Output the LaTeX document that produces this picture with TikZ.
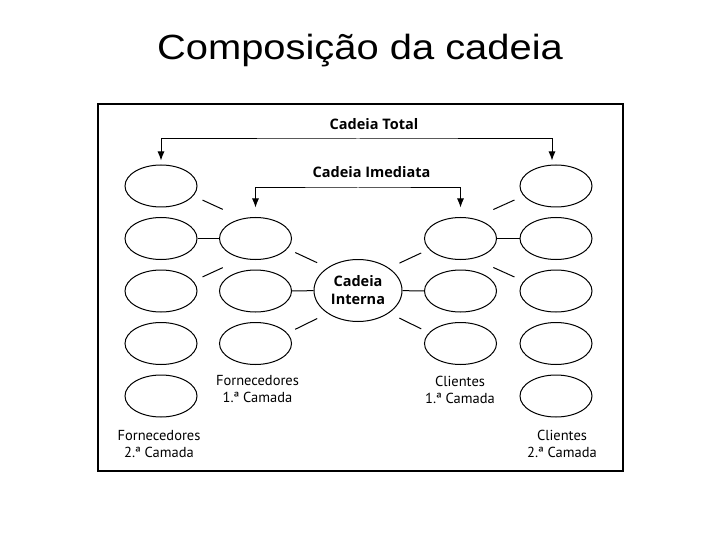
\documentclass[tikz,border=0pt]{standalone}
\usepackage{fontspec}
\setmainfont{PT Sans}
\newfontfamily\titlefont[FakeStretch=1.14]{Liberation Sans}
\newfontfamily\osans{Open Sans}
\usetikzlibrary{arrows.meta,shapes.geometric}
\begin{document}
\begin{tikzpicture}[x=1pt,y=-1pt,
  ell/.style={draw, ellipse, line width=1pt, minimum width=72pt, minimum height=42pt, inner sep=0pt},
  conn/.style={line width=1pt},
  tip/.style={line width=1pt, {Latex[length=9pt,width=7pt]}-{Latex[length=9pt,width=7pt]}},
  lbl/.style={font=\fontsize{14.5}{17}\selectfont, align=center, inner sep=0pt},
  blbl/.style={font=\osans\fontsize{14.5}{18}\selectfont\bfseries, align=center, inner sep=0pt}
]
\useasboundingbox (0,0) rectangle (720,540);
\node[font=\titlefont\fontsize{35}{40}\selectfont, anchor=base, inner sep=0pt] (title) at (360,60) {Composição da cadeia};
\draw[line width=1.3pt] (98,104) rectangle (623,471);

% outer columns
\foreach \i/\y in {1/186,2/238.5,3/291,4/343.5,5/396}{
  \node[ell] (L\i) at (161,\y) {};
  \node[ell] (R\i) at (556,\y) {};
}
% inner columns
\foreach \i/\y in {2/238.5,3/291,4/343.5}{
  \node[ell] (M\i) at (255.5,\y) {};
  \node[ell] (N\i) at (460.5,\y) {};
}
\node[ell, blbl, minimum width=88pt, minimum height=62pt] (C) at (358,290.5) {Cadeia\\Interna};

% horizontal connectors
\draw[conn] (L2) -- (M2);
\draw[conn] (M3) -- (C);
\draw[conn] (C) -- (N3);
\draw[conn] (N2) -- (R2);

% diagonal connectors
\draw[conn, shorten <=10pt, shorten >=21.7pt] (L1.-17) -- (M2.123);
\draw[conn, shorten <=10pt, shorten >=21.7pt] (L3.17) -- (M2.-123);
\draw[conn, shorten <=10pt, shorten >=21.7pt] (R1.-163) -- (N2.57);
\draw[conn, shorten <=10pt, shorten >=21.7pt] (R3.163) -- (N2.-57);
\draw[conn, shorten <=8.6pt, shorten >=11.5pt] (M2.-18.2) -- (C.143.9);
\draw[conn, shorten <=8.6pt, shorten >=11.5pt] (M4.18.2) -- (C.-143.9);
\draw[conn, shorten <=8.6pt, shorten >=11.5pt] (N2.-161.8) -- (C.36.1);
\draw[conn, shorten <=8.6pt, shorten >=11.5pt] (N4.161.8) -- (C.-36.1);

% chain arrows
\node[blbl, anchor=base] (tot) at (374,130) {Cadeia Total};
\node[blbl, anchor=base] (ime) at (371.5,178) {Cadeia Imediata};
\coordinate (tl) at (358,139);
\coordinate (il) at (358,188);
\draw[tip, shorten <=4pt, shorten >=4pt] (L1.north) |- (tl) -| ([xshift=-4pt]R1.north);
\draw[tip, shorten <=9.5pt, shorten >=9.5pt] (M2.north) |- (il) -| (N2.north);

% labels
\node[lbl] (f1) at (257.5,389) {Fornecedores\\1.ª Camada};
\node[lbl] (f2) at (159,444) {Fornecedores\\2.ª Camada};
\node[lbl] (c1) at (460,390) {Clientes\\1.ª Camada};
\node[lbl] (c2) at (562,443.5) {Clientes\\2.ª Camada};
\end{tikzpicture}
\end{document}
